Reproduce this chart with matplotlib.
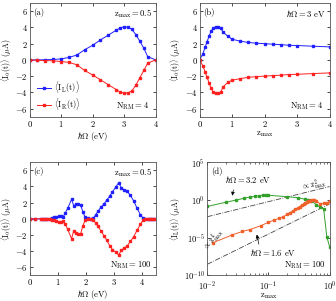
import matplotlib
matplotlib.use('Agg')
import matplotlib.pyplot as plt
import numpy as np

plt.rcParams['font.family'] = 'serif'
plt.rcParams['font.serif'] = ['cmr10', 'DejaVu Serif']
plt.rcParams['mathtext.fontset'] = 'cm'
plt.rcParams['axes.formatter.use_mathtext'] = True
plt.rcParams['axes.unicode_minus'] = True
plt.rcParams['font.size'] = 6.2

# (a) N_RM = 4, z_max = 0.5
hw_a = [0, 0.25, 0.5, 0.75, 1.0, 1.25, 1.5, 1.75, 2.0, 2.25, 2.5, 2.75, 2.875,
        3.0, 3.125, 3.25, 3.375, 3.5, 3.625, 3.75, 4.0]
IL_a = [0, 0.0, 0.02, 0.05, 0.12, 0.3, 0.6, 1.25, 1.8, 2.45, 3.05, 3.65, 3.93,
        4.08, 4.05, 3.75, 3.1, 2.3, 1.45, 0.4, 0.0]
IR_a = [0, -0.05, -0.08, -0.12, -0.2, -0.3, -0.6, -1.3, -1.85, -2.45, -3.05, -3.65, -3.95,
        -4.1, -4.05, -3.8, -3.1, -2.2, -1.3, -0.4, 0.0]

# (b) N_RM = 4, hw = 3 eV
z_b = [0, 0.1, 0.175, 0.225, 0.3, 0.35, 0.425, 0.5, 0.575, 0.65, 0.725, 0.875, 1.0,
       1.25, 1.5, 1.75, 2.0, 2.25, 2.5, 2.75, 3.0, 3.5, 4.0]
IL_b = [0, 0.75, 1.6, 2.2, 3.0, 3.5, 3.9, 4.1, 4.05, 3.9, 3.4, 2.9, 2.55,
        2.3, 2.15, 2.05, 2.0, 1.93, 1.88, 1.8, 1.77, 1.68, 1.6]
IR_b = [0, -0.75, -1.5, -2.1, -2.9, -3.5, -3.95, -4.12, -4.1, -3.95, -3.3, -2.75, -2.5,
        -2.3, -2.15, -2.05, -2.0, -1.93, -1.88, -1.8, -1.77, -1.68, -1.6]

# (c) N_RM = 100, z_max = 0.5
hw_c = [0, 0.2, 0.4, 0.48, 0.56, 0.64, 0.72, 0.8, 0.88, 0.96, 1.04, 1.12, 1.2, 1.28,
        1.36, 1.5, 1.58, 1.66, 1.74, 1.82, 1.9, 1.98, 2.08, 2.18, 2.28, 2.36, 2.44,
        2.55, 2.66, 2.75, 2.86, 2.96, 3.07, 3.18, 3.28, 3.38, 3.48, 3.6, 3.72, 3.84,
        3.96, 4.06, 4.14, 4.22, 4.3, 4.38, 4.46]
IL_c = [0, 0, 0, 0, 0, 0, 0, 0.12, 0.2, 0.28, 0.3, 0.3, 0.25, 0.75,
        1.3, 2.4, 1.6, 1.85, 1.8, 1.75, 0.9, 0.2, 0.05, 0.02, 0.1, 0.5, 0.92,
        1.45, 1.85, 2.3, 2.8, 3.35, 3.9, 4.45, 3.85, 3.55, 3.45, 2.9, 2.2, 1.3,
        0.5, 0.05, 0, 0, 0, 0, 0]
IR_c = [0, 0, 0, 0, 0, 0, 0, -0.1, -0.2, -0.3, -0.4, -0.42, -0.3, -0.7,
        -1.3, -2.45, -1.45, -1.8, -1.85, -1.9, -0.9, -0.2, -0.05, -0.02, -0.15, -0.5, -0.92,
        -1.5, -2.1, -2.6, -3.3, -3.8, -4.1, -4.45, -3.9, -3.6, -3.4, -2.8, -2.2, -1.4,
        -0.7, -0.1, 0, 0, 0, 0, 0]

# (d) N_RM = 100, log-log
z_g = [0.01, 0.02, 0.03, 0.04, 0.05, 0.06, 0.07, 0.08, 0.09, 0.1, 0.2, 0.3, 0.4,
       0.45, 0.5, 0.6, 0.7, 0.8, 0.9, 1.0]
I_g = [0.138, 0.5, 1.0, 1.66, 2.5, 3.0, 3.7, 4.2, 4.2, 4.2, 2.75, 2.0, 1.23,
       1.1, 0.8, 0.25, 0.11, 0.059, 1.3e-5, 6.3e-7]
z_o = [0.0125, 0.025, 0.0375, 0.05, 0.075, 0.1, 0.125, 0.15, 0.175, 0.2, 0.225, 0.25,
       0.275, 0.3, 0.325, 0.35, 0.375, 0.4, 0.425, 0.45, 0.475, 0.5, 0.525, 0.55,
       0.6, 0.7, 0.8, 0.9, 1.0]
I_o = [2.2e-6, 2.2e-5, 6.8e-5, 1.2e-4, 3.9e-4, 1.1e-3, 2.2e-3, 3.7e-3, 6.3e-3, 0.012,
       0.021, 0.035, 0.058, 0.089, 0.135, 0.2, 0.28, 0.4, 0.54, 0.68, 0.83, 0.93, 1.0,
       0.95, 0.69, 0.32, 0.38, 0.38, 0.69]
z_ref = [0.01, 1.0]
C2 = 60.0
C4 = 0.3

blue = '#2020ff'
red = '#ff2020'
green = '#33a02c'
orange = '#f0602a'

fig = plt.figure(figsize=(3.36, 3.01), dpi=100)
ax_a = fig.add_axes([0.088, 0.612, 0.375, 0.378])
ax_b = fig.add_axes([0.594, 0.612, 0.387, 0.378])
ax_c = fig.add_axes([0.088, 0.085, 0.375, 0.376])
ax_d = fig.add_axes([0.617, 0.085, 0.364, 0.376])

lw = 0.7
ms = 1.8
ylab = r'$\langle \mathrm{I}_\alpha(\mathrm{t})\rangle\ (\mu\mathrm{A})$'

for ax in [ax_a, ax_b, ax_c, ax_d]:
    ax.tick_params(direction='in', top=True, right=True, length=2.5, width=0.5,
                   labelsize=6.2, pad=1.5)
    ax.tick_params(which='minor', direction='in', top=True, right=True, length=1.3, width=0.4)
    for s in ax.spines.values():
        s.set_linewidth(0.6)
        s.set_color('#555555')

# (a)
ax_a.plot(hw_a, IL_a, '-s', color=blue, lw=lw, ms=ms, label=r'$\langle \mathrm{I}_\mathrm{L}(\mathrm{t})\rangle$')
ax_a.plot(hw_a, IR_a, '-s', color=red, lw=lw, ms=ms, label=r'$\langle \mathrm{I}_\mathrm{R}(\mathrm{t})\rangle$')
ax_a.set_xlim(0, 4)
ax_a.set_ylim(-7, 7)
ax_a.set_yticks([-6, -4, -2, 0, 2, 4, 6])
ax_a.set_xlabel(r'$\hbar\Omega$ (eV)', labelpad=0.5)
ax_a.set_ylabel(ylab, fontsize=5.6)
ax_a.text(0.03, 0.96, '(a)', transform=ax_a.transAxes, va='top', ha='left')
ax_a.text(0.97, 0.96, r'$\mathrm{z}_\mathrm{max}=0.5$', transform=ax_a.transAxes, va='top', ha='right')
ax_a.text(0.95, 0.04, r'$\mathrm{N}_\mathrm{RM}=4$', transform=ax_a.transAxes, va='bottom', ha='right')
ax_a.legend(loc='lower left', bbox_to_anchor=(0.02, 0.0), frameon=False, fontsize=6,
            handlelength=1.7, handletextpad=0.3, labelspacing=0.05, borderaxespad=0.2)

# (b)
ax_b.plot(z_b, IL_b, '-s', color=blue, lw=lw, ms=ms)
ax_b.plot(z_b, IR_b, '-s', color=red, lw=lw, ms=ms)
ax_b.set_xlim(0, 4)
ax_b.set_ylim(-7, 7)
ax_b.set_yticks([-6, -4, -2, 0, 2, 4, 6])
ax_b.set_xlabel(r'$\mathrm{z}_\mathrm{max}$', labelpad=0.5)
ax_b.set_ylabel(ylab, fontsize=5.6)
ax_b.text(0.03, 0.96, '(b)', transform=ax_b.transAxes, va='top', ha='left')
ax_b.text(0.97, 0.96, r'$\hbar\Omega=3$ eV', transform=ax_b.transAxes, va='top', ha='right')
ax_b.text(0.95, 0.04, r'$\mathrm{N}_\mathrm{RM}=4$', transform=ax_b.transAxes, va='bottom', ha='right')

# (c)
ax_c.plot(hw_c, IL_c, '-s', color=blue, lw=lw, ms=ms)
ax_c.plot(hw_c, IR_c, '-s', color=red, lw=lw, ms=ms)
ax_c.set_xlim(0, 4.5)
ax_c.set_ylim(-7, 7)
ax_c.set_xticks([0, 1, 2, 3, 4])
ax_c.set_yticks([-6, -4, -2, 0, 2, 4, 6])
ax_c.set_xlabel(r'$\hbar\Omega$ (eV)', labelpad=0.5)
ax_c.set_ylabel(ylab, fontsize=5.6)
ax_c.text(0.03, 0.96, '(c)', transform=ax_c.transAxes, va='top', ha='left')
ax_c.text(0.97, 0.96, r'$\mathrm{z}_\mathrm{max}=0.5$', transform=ax_c.transAxes, va='top', ha='right')
ax_c.text(0.97, 0.04, r'$\mathrm{N}_\mathrm{RM}=100$', transform=ax_c.transAxes, va='bottom', ha='right')

for ax in [ax_a, ax_b, ax_c]:
    ax.yaxis.set_label_coords(-0.125, 0.5)

# (d)
zr = np.array(z_ref)
ax_d.plot(zr, C2 * zr**2, color='#444444', lw=0.6, ls='-.')
ax_d.plot(zr, C4 * zr**4, color='#444444', lw=0.6, ls='-.')
ax_d.plot(z_g, I_g, '-s', color=green, lw=lw, ms=ms)
ax_d.plot(z_o, I_o, '-s', color=orange, lw=lw, ms=ms)
ax_d.set_xscale('log')
ax_d.set_yscale('log')
ax_d.set_xlim(1e-2, 1)
ax_d.set_ylim(1e-10, 1e5)
ax_d.set_yticks([1e-10, 1e-5, 1e0, 1e5])
ax_d.yaxis.set_minor_locator(matplotlib.ticker.NullLocator())
ax_d.tick_params(axis='x', pad=3)
ax_d.set_xlabel(r'$\mathrm{z}_\mathrm{max}$', labelpad=-1)
ax_d.set_ylabel(r'$\langle \mathrm{I}_\mathrm{L}(\mathrm{t})\rangle\ (\mu\mathrm{A})$', fontsize=5.6, labelpad=0.3)
ax_d.text(0.03, 0.96, '(d)', transform=ax_d.transAxes, va='top', ha='left')
ax_d.text(0.97, 0.04, r'$\mathrm{N}_\mathrm{RM}=100$', transform=ax_d.transAxes, va='bottom', ha='right')
ax_d.annotate(r'$\hbar\Omega=3.2$ eV', xy=(0.025, 1.6), xytext=(0.047, 600),
              ha='center', va='center', fontsize=6.2,
              arrowprops=dict(arrowstyle='-|>', color='k', lw=0.5, mutation_scale=5,
                              relpos=(0.2, 0.0)))
ax_d.annotate(r'$\hbar\Omega=1.6$ eV', xy=(0.063, 6e-5), xytext=(0.12, 1.1e-7),
              ha='center', va='center', fontsize=6.2,
              arrowprops=dict(arrowstyle='-|>', color='k', lw=0.5, mutation_scale=5,
                              shrinkA=0, relpos=(0.2, 1.0)))
ax_d.text(0.55, 80, r'$\propto\,\mathrm{z}^2_\mathrm{max}$', fontsize=5.5, rotation=12,
          ha='center', va='center')
ax_d.text(0.0125, 5e-6, r'$\propto\,\mathrm{z}^4_\mathrm{max}$', fontsize=5.5, rotation=50,
          ha='center', va='center')

fig.savefig('out.png', dpi=100)
